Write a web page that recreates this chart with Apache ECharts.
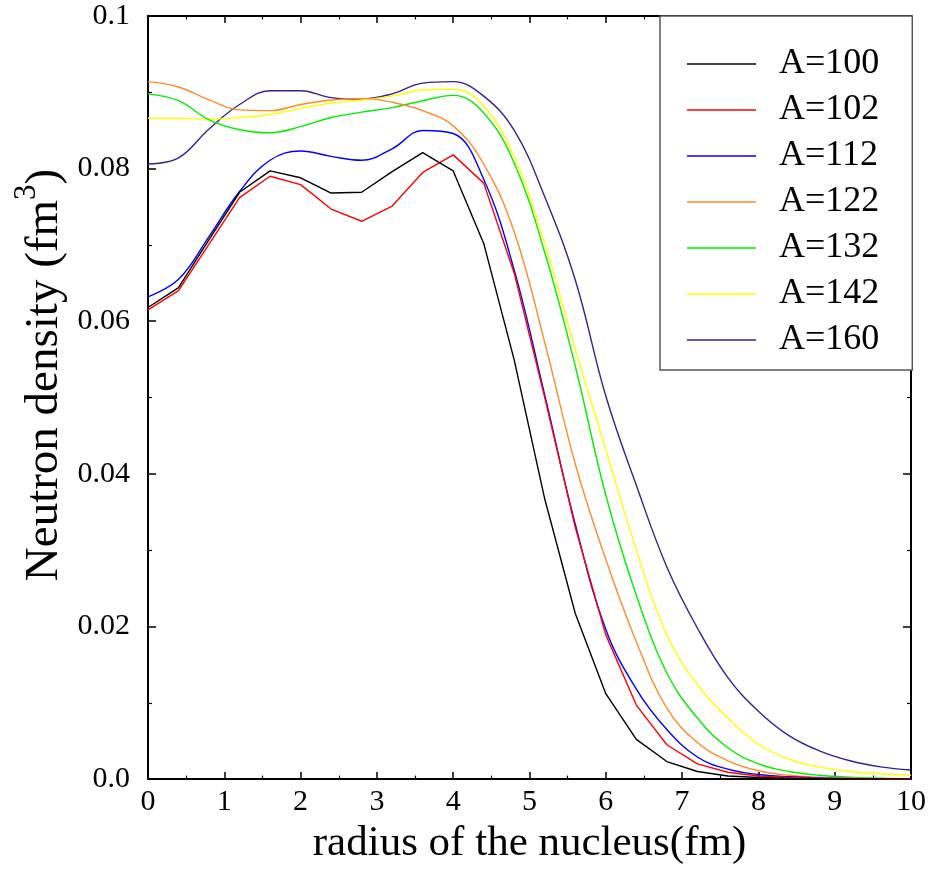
<!DOCTYPE html>
<html>
<head>
<meta charset="utf-8">
<script src="https://cdn.jsdelivr.net/npm/echarts@6/dist/echarts.min.js"></script>
<style>
html,body{margin:0;padding:0;background:#fff;}
#chart{width:929px;height:870px;}
</style>
</head>
<body>
<div id="chart"></div>
<script>
// radius grid (fm)
const radius = [0,0.4,0.8,1.2,1.6,2.0,2.4,2.8,3.2,3.6,4.0,4.4,4.8,5.2,5.6,6.0,6.4,6.8,7.2,7.6,8.0,8.4,8.8,9.2,9.6,10];

const seriesNames = ['A=100','A=102','A=112','A=122','A=132','A=142','A=160'];

const dA100 = [0.0618,0.0644,0.0707,0.0769,0.0797,0.0788,0.0768,0.0769,0.0796,0.0821,0.0797,0.0702,0.0549,0.0367,0.0217,0.0112,0.0052,0.0023,0.0010,0.0004,0.0002,0.0001,0.00005,0.00002,0.00001,0.0];
const dA102 = [0.0615,0.0640,0.0701,0.0762,0.0790,0.0779,0.0747,0.0731,0.0751,0.0795,0.0818,0.0781,0.0663,0.0500,0.0330,0.0189,0.0097,0.0045,0.0020,0.0009,0.0004,0.0002,0.0001,0.00004,0.00002,0.00001];
const dA112 = [0.0632,0.0655,0.0711,0.0770,0.0811,0.0823,0.0816,0.0811,0.0826,0.0850,0.0846,0.0786,0.0667,0.0503,0.0334,0.0196,0.0118,0.0065,0.0029,0.0013,0.0006,0.0003,0.00015,0.00008,0.00004,0.00002];
const dA122 = [0.0914,0.0907,0.0890,0.0877,0.0876,0.0884,0.0890,0.0892,0.0887,0.0876,0.0856,0.0806,0.0717,0.0572,0.0413,0.0288,0.0180,0.0093,0.0048,0.0024,0.0011,0.0005,0.00025,0.00012,0.00006,0.00003];
const dA132 = [0.0898,0.0889,0.0864,0.0851,0.0847,0.0855,0.0867,0.0874,0.0880,0.0889,0.0896,0.0873,0.0807,0.0690,0.0541,0.0372,0.0241,0.0139,0.0080,0.0041,0.0020,0.0010,0.0005,0.00025,0.00012,0.00006];
const dA142 = [0.0866,0.0866,0.0865,0.0867,0.0871,0.0879,0.0886,0.0890,0.0895,0.0903,0.0904,0.0882,0.0815,0.0702,0.0563,0.0432,0.0300,0.0189,0.0124,0.0080,0.0046,0.0026,0.0016,0.0010,0.0007,0.0005];
const dA160 = [0.0806,0.0814,0.0852,0.0884,0.0902,0.0902,0.0893,0.0891,0.0898,0.0912,0.0914,0.0895,0.0850,0.0763,0.0654,0.0502,0.0385,0.0278,0.0198,0.0133,0.0089,0.0057,0.0037,0.0024,0.0016,0.0012];

const seriesData = [dA100,dA102,dA112,dA122,dA132,dA142,dA160];
const colors = ['#000000','#ff0000','#0000ff','#ff8a2a','#00ee00','#ffff00','#3a1f8f'];
const smoothFlags = [false,false,true,true,true,true,true];

const xTicks = ['0','1','2','3','4','5','6','7','8','9','10'];
const yTickLabels = {0:'0.0',0.02:'0.02',0.04:'0.04',0.06:'0.06',0.08:'0.08',0.1:'0.1'};

const FONT = '"Liberation Serif","Times New Roman",serif';

const chart = echarts.init(document.getElementById('chart'), null, {renderer:'canvas'});

const axisLine = {show:true, onZero:false, lineStyle:{color:'#000', width:2}};

const series = seriesNames.map((n,i)=>({
  name:n,
  type:'line',
  xAxisIndex:0,
  yAxisIndex:0,
  data: radius.map((r,k)=>[r, seriesData[i][k]]),
  smooth: smoothFlags[i] ? 0.4 : false,
  symbol:'none',
  showSymbol:false,
  lineStyle:{color:colors[i], width:1.4},
  itemStyle:{color:colors[i]},
  animation:false,
  z: 10 - i
}));

chart.setOption({
  animation:false,
  backgroundColor:'#fff',
  grid:{left:148, right:17, top:16, bottom:88, containLabel:false},
  xAxis:[{
    type:'value', min:0, max:10, interval:1, position:'bottom',
    axisLine:axisLine,
    axisTick:{show:true, inside:true, length:7, lineStyle:{color:'#000', width:1.5}},
    minorTick:{show:true, splitNumber:2, length:3.5, lineStyle:{color:'#000', width:1.2}},
    splitLine:{show:false},
    axisLabel:{show:true, margin:8, color:'#000', fontFamily:FONT, fontSize:30,
      formatter:(v)=>xTicks[Math.round(v)]},
    name:'radius of the nucleus(fm)', nameLocation:'middle', nameGap:35,
    nameTextStyle:{color:'#000', fontFamily:FONT, fontSize:43}
  },{
    type:'value', min:0, max:10, interval:1, position:'top',
    axisLine:axisLine,
    axisTick:{show:true, inside:true, length:7, lineStyle:{color:'#000', width:1.5}},
    minorTick:{show:true, splitNumber:2, length:3.5, lineStyle:{color:'#000', width:1.2}},
    splitLine:{show:false}, axisLabel:{show:false}
  }],
  yAxis:[{
    type:'value', min:0, max:0.1, interval:0.02, position:'left',
    axisLine:axisLine,
    axisTick:{show:true, inside:true, length:8, lineStyle:{color:'#000', width:1.5}},
    minorTick:{show:true, splitNumber:2, length:4, lineStyle:{color:'#000', width:1.2}},
    splitLine:{show:false},
    axisLabel:{show:true, margin:18, color:'#000', fontFamily:FONT, fontSize:30,
      formatter:(v)=>{const k=Math.round(v*100)/100; return yTickLabels[k] !== undefined ? yTickLabels[k] : String(v);}}
  },{
    type:'value', min:0, max:0.1, interval:0.02, position:'right',
    axisLine:axisLine,
    axisTick:{show:true, inside:true, length:8, lineStyle:{color:'#000', width:1.5}},
    minorTick:{show:true, splitNumber:2, length:4, lineStyle:{color:'#000', width:1.2}},
    splitLine:{show:false}, axisLabel:{show:false}
  }],
  legend:{
    show:true, orient:'vertical', left:660, top:16,
    padding:[30,33,12,27],
    backgroundColor:'#fff',
    borderColor:'#555', borderWidth:1.5,
    icon:'rect',
    itemWidth:69, itemHeight:1.5, itemGap:10,
    data: seriesNames,
    textStyle:{color:'#000', fontFamily:FONT, fontSize:36, lineHeight:36, padding:[0,0,0,18]},
    selectedMode:false
  },
  graphic:[{
    type:'text',
    x:40, y:375,
    rotation:Math.PI/2,
    style:{
      text:'{n|Neutron density (fm}{s|3}{n|)}',
      align:'center', verticalAlign:'middle',
      rich:{
        n:{fontFamily:FONT, fontSize:47, fill:'#000', verticalAlign:'bottom', lineHeight:50},
        s:{fontFamily:FONT, fontSize:31, fill:'#000', verticalAlign:'bottom', padding:[0,0,26,0]}
      }
    }
  }],
  series:series
});
</script>
</body>
</html>
